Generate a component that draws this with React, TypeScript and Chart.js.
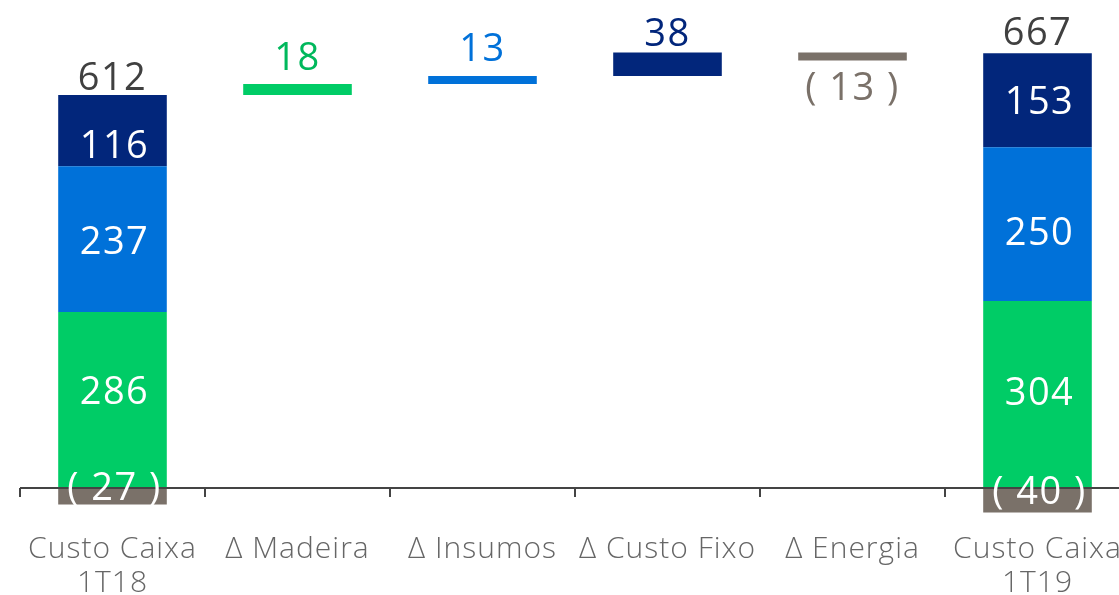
import React, { useEffect, useRef } from "react";
import { Chart, registerables } from "chart.js";

Chart.register(...registerables);

// ---- data ----
const categories: string[][] = [
  ["Custo Caixa", "1T18"],
  ["\u0394 Madeira"],
  ["\u0394 Insumos"],
  ["\u0394 Custo Fixo"],
  ["\u0394 Energia"],
  ["Custo Caixa", "1T19"],
];
const madeira1T = [286, 304]; // green
const insumos1T = [237, 250]; // blue
const fixo1T = [116, 153]; // navy
const energia1T = [-27, -40]; // gray
const totals = [612, 667];
const deltas = [18, 13, 38, -13];

const COLORS = ["#00CC66", "#0071D9", "#02267B", "#7A7169"];
const DELTA_TEXT = ["#00B85C", "#0071D9", "#02267B", "#7A7169"];

function fmt(v: number) {
  return v < 0 ? `( ${Math.abs(v)} )` : String(v);
}

export default function App() {
  const ref = useRef<HTMLCanvasElement>(null);

  useEffect(() => {
    document.body.style.margin = "0";
    document.body.style.overflow = "hidden";
    document.documentElement.style.overflow = "hidden";

    const n = categories.length;
    const last = n - 1;
    const series = [madeira1T, insumos1T, fixo1T];
    const start = madeira1T[0] + insumos1T[0] + fixo1T[0];
    const data: any[][] = [0, 1, 2, 3].map(() => new Array(n).fill(null));
    [0, 1].forEach((k) => {
      const idx = k === 0 ? 0 : last;
      let acc = 0;
      series.forEach((s, si) => {
        data[si][idx] = [acc, acc + s[k]];
        acc += s[k];
      });
      data[3][idx] = [energia1T[k], 0];
    });
    let level = start;
    deltas.forEach((d, i) => {
      data[i][i + 1] = [level, level + d];
      level += d;
    });

    const font = "'Open Sans', sans-serif";
    const deltaGap = [14, 15, 7];
    const innerShift = [[-7, 0], [4, 10], [16, 3], [-7, -7]];

    const plugin = {
      id: "waterfallDecor",
      afterDatasetsDraw(chart: any) {
        const ctx = chart.ctx;
        const xs = chart.scales.x;
        const ys = chart.scales.y;
        const area = chart.chartArea;
        const y0 = ys.getPixelForValue(0);
        const step = (area.right - area.left) / n;

        ctx.save();
        ctx.strokeStyle = "#444444";
        ctx.lineWidth = 2;
        ctx.beginPath();
        ctx.moveTo(area.left, y0);
        ctx.lineTo(area.right, y0);
        for (let i = 0; i <= n; i++) {
          const x = Math.round(area.left + i * step);
          ctx.moveTo(x, y0);
          ctx.lineTo(x, y0 + 9);
        }
        ctx.stroke();

        // category labels
        ctx.fillStyle = "#666666";
        ctx.font = `300 30px ${font}`;
        (ctx as any).letterSpacing = "1px";
        ctx.textAlign = "center";
        ctx.textBaseline = "alphabetic";
        categories.forEach((lines, i) => {
          const x = xs.getPixelForValue(i);
          lines.forEach((t, li) => {
            ctx.fillText(t, x, 558 + li * 34);
          });
        });

        // value labels
        ctx.font = `400 38px ${font}`;
        (ctx as any).letterSpacing = "1.5px";
        for (let di = 0; di < 4; di++) {
          const meta = chart.getDatasetMeta(di);
          meta.data.forEach((el: any, i: number) => {
            const raw = data[di][i];
            if (!raw) return;
            const top = Math.min(el.y, el.base);
            const bot = Math.max(el.y, el.base);
            const mid = (top + bot) / 2;
            if (i === 0 || i === last) {
              const k = i === 0 ? 0 : 1;
              const v = [madeira1T, insumos1T, fixo1T, energia1T][di][k];
              ctx.fillStyle = "#FFFFFF";
              ctx.textBaseline = "middle";
              ctx.fillText(fmt(v), el.x + 2, mid + innerShift[di][k]);
            } else {
              const d = deltas[i - 1];
              ctx.fillStyle = DELTA_TEXT[di];
              if (d >= 0) {
                ctx.textBaseline = "alphabetic";
                ctx.fillText(fmt(d), el.x, top - deltaGap[i - 1]);
              } else {
                ctx.textBaseline = "middle";
                ctx.fillText(fmt(d), el.x, bot + 29);
              }
            }
          });
        }
        ctx.fillStyle = "#404040";
        ctx.textBaseline = "alphabetic";
        [0, last].forEach((idx, k) => {
          const el = chart.getDatasetMeta(2).data[idx];
          ctx.fillText(String(totals[k]), el.x, Math.min(el.y, el.base) - (k === 0 ? 5 : 8));
        });
        ctx.restore();
      },
    };

    const chart = new Chart(ref.current!, {
      type: "bar",
      data: {
        labels: categories.map((c) => c.join(" ")),
        datasets: data.map((d, i) => ({
          label: String(i),
          data: d,
          backgroundColor: COLORS[i],
          borderWidth: 0,
          grouped: false,
          barPercentage: 0.587,
          categoryPercentage: 1,
        })) as any,
      },
      options: {
        animation: false,
        responsive: false,
        maintainAspectRatio: false,
        layout: { padding: { left: 20, right: 10, top: 8.3, bottom: 70.1 } },
        plugins: { legend: { display: false }, tooltip: { enabled: false } },
        scales: {
          x: { display: false },
          y: { display: false, min: -60, max: 780 },
        },
      },
      plugins: [plugin],
    });
    return () => chart.destroy();
  }, []);

  return (
    <div style={{ width: 1140, height: 595, overflow: "hidden" }}>
      <canvas ref={ref} width={1140} height={595} style={{ display: "block" }} />
    </div>
  );
}
